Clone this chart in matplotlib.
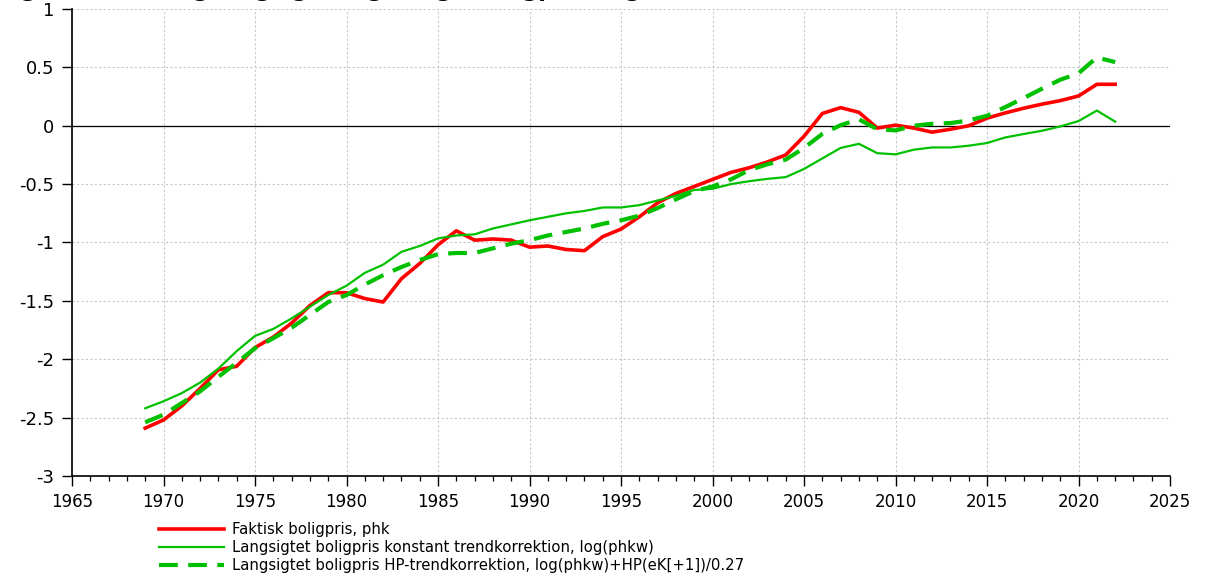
import matplotlib
matplotlib.use("Agg")
import matplotlib.pyplot as plt
from matplotlib.ticker import MultipleLocator

# Data (log-levels)
years = list(range(1969, 2023))

faktisk = [
    -2.59, -2.52, -2.40, -2.25, -2.09, -2.06, -1.90, -1.81, -1.69, -1.54,  # 1969-1978
    -1.43, -1.43, -1.48, -1.51, -1.31, -1.18, -1.02, -0.90, -0.98, -0.97,  # 1979-1988
    -0.98, -1.04, -1.03, -1.06, -1.07, -0.95, -0.885, -0.78, -0.66, -0.58,  # 1989-1998
    -0.52, -0.46, -0.40, -0.36, -0.31, -0.25, -0.09, 0.105, 0.155, 0.115,  # 1999-2008
    -0.02, 0.005, -0.02, -0.055, -0.03, 0.0, 0.065, 0.11, 0.15, 0.185,      # 2009-2018
    0.215, 0.255, 0.355, 0.355,                                            # 2019-2022
]

konstant = [
    -2.42, -2.36, -2.29, -2.20, -2.08, -1.93, -1.80, -1.74, -1.65, -1.55,
    -1.45, -1.37, -1.26, -1.19, -1.08, -1.03, -0.965, -0.94, -0.93, -0.88,
    -0.845, -0.81, -0.78, -0.75, -0.73, -0.70, -0.70, -0.68, -0.64, -0.60,
    -0.55, -0.54, -0.50, -0.475, -0.455, -0.44, -0.37, -0.28, -0.19, -0.155,
    -0.235, -0.245, -0.205, -0.186, -0.186, -0.171, -0.148, -0.10, -0.071, -0.043,
    -0.006, 0.04, 0.13, 0.035,
]

hp_trend = [
    -2.54, -2.475, -2.375, -2.275, -2.15, -2.03, -1.905, -1.82, -1.73, -1.62,
    -1.51, -1.45, -1.36, -1.28, -1.21, -1.15, -1.10, -1.09, -1.09, -1.05,
    -1.01, -0.98, -0.94, -0.91, -0.88, -0.84, -0.81, -0.77, -0.705, -0.63,
    -0.56, -0.52, -0.46, -0.38, -0.33, -0.29, -0.19, -0.07, 0.005, 0.055,
    -0.03, -0.04, 0.0, 0.017, 0.023, 0.045, 0.086, 0.16, 0.237, 0.317,
    0.394, 0.45, 0.585, 0.545,
]

labels = [
    "Faktisk boligpris, phk",
    "Langsigtet boligpris konstant trendkorrektion, log(phkw)",
    "Langsigtet boligpris HP-trendkorrektion, log(phkw)+HP(eK[+1])/0.27",
]
ytick_vals = [-3, -2.5, -2, -1.5, -1, -0.5, 0, 0.5, 1]
ytick_text = ["-3", "-2.5", "-2", "-1.5", "-1", "-0.5", "0", "0.5", "1"]
title = "Figur: Faktisk og langsigtet ligevægtsboligpris, log-niveau"

red = "#ff0000"
green = "#00c000"

plt.rcParams["font.family"] = "DejaVu Sans"

fig = plt.figure(figsize=(12.1, 5.76), dpi=100)
ax = fig.add_axes([0.0595, 0.1736, 0.9075, 0.8108])

l1, = ax.plot(years, faktisk, color=red, lw=2.6, solid_joinstyle="round")
l2, = ax.plot(years, konstant, color=green, lw=1.6)
l3, = ax.plot(years, hp_trend, color=green, lw=3.0, linestyle=(0, (4.5, 2.5)))

ax.axhline(0, color="black", lw=0.9, zorder=1)

ax.set_xlim(1965, 2025)
ax.set_ylim(-3, 1)
ax.xaxis.set_major_locator(MultipleLocator(5))
ax.xaxis.set_minor_locator(MultipleLocator(1))
ax.set_yticks(ytick_vals)
ax.set_yticklabels(ytick_text)

ax.grid(True, which="major", color="#c8c8c8", lw=0.8, linestyle=(0, (2, 2)))
ax.set_axisbelow(True)

for s in ["top", "right"]:
    ax.spines[s].set_visible(False)
for s in ["left", "bottom"]:
    ax.spines[s].set_linewidth(1.2)
    ax.spines[s].set_color("black")

ax.tick_params(axis="both", which="major", direction="out", length=7, width=1.0,
               colors="black")
ax.tick_params(axis="x", which="minor", direction="out", length=3.5, width=0.9)
ax.tick_params(axis="x", pad=5, labelsize=12)
ax.tick_params(axis="y", pad=6, labelsize=13)

fig.legend([l1, l2, l3], labels, loc="upper left", bbox_to_anchor=(0.131, 0.094),
           frameon=False, fontsize=10.7, handlelength=4.4, handletextpad=0.55,
           labelspacing=0.22, borderaxespad=0, borderpad=0)

# title sits mostly above the visible canvas, only descenders show
fig.text(-0.002, 1 + 3 / 576, title, fontsize=16, fontweight="bold", va="baseline", ha="left")

fig.savefig("out.png", dpi=100)
